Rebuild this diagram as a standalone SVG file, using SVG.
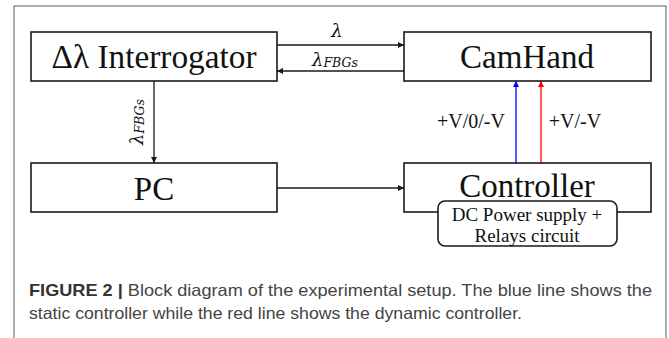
<svg xmlns="http://www.w3.org/2000/svg" width="669" height="338" viewBox="0 0 669 338">
<defs>
<style>
.box{fill:#fff;stroke:#1a1a1a;stroke-width:1.6}
.lbl{font-family:"Liberation Serif","Times New Roman",serif;fill:#111;text-anchor:middle}
.big{font-size:33px}
.mid{font-size:20px}
.sm{font-size:19px}
.math{font-family:"DejaVu Serif","Liberation Serif",serif;font-style:italic;fill:#111}
.wire{fill:none;stroke:#1a1a1a;stroke-width:1.3}
.cap{font-family:"Liberation Sans",Arial,sans-serif;font-size:16.5px;fill:#444}
</style>
<marker id="ah" viewBox="0 0 10 10" refX="10" refY="5" markerWidth="6" markerHeight="6" markerUnits="userSpaceOnUse" orient="auto"><path d="M0,0 L10,5 L0,10 z" fill="#1a1a1a"/></marker>
<marker id="ahb" viewBox="0 0 10 10" refX="10" refY="5" markerWidth="6" markerHeight="6" markerUnits="userSpaceOnUse" orient="auto"><path d="M0,0 L10,5 L0,10 z" fill="#0000ff"/></marker>
<marker id="ahr" viewBox="0 0 10 10" refX="10" refY="5" markerWidth="6" markerHeight="6" markerUnits="userSpaceOnUse" orient="auto"><path d="M0,0 L10,5 L0,10 z" fill="#ff0000"/></marker>
</defs>
<rect width="669" height="338" fill="#fff"/>
<rect x="14" y="6" width="652" height="340" fill="none" stroke="#777" stroke-width="1.2"/>

<g id="connectors">
<line class="wire" x1="277" y1="45" x2="404" y2="45" marker-end="url(#ah)"/>
<line class="wire" x1="404" y1="71" x2="277" y2="71" marker-end="url(#ah)"/>
<line class="wire" x1="154" y1="81" x2="154" y2="163" marker-end="url(#ah)"/>
<line class="wire" x1="277" y1="188" x2="404" y2="188" marker-end="url(#ah)"/>
<line x1="516" y1="163" x2="516" y2="81" stroke="#0000ff" stroke-width="1.3" marker-end="url(#ahb)"/>
<line x1="541" y1="163" x2="541" y2="81" stroke="#ff0000" stroke-width="1.3" marker-end="url(#ahr)"/>
<text class="math" x="337" y="37" font-size="18" text-anchor="middle">λ</text>
<text class="math" x="312" y="66" font-size="18">λ<tspan font-size="12.5" dy="1">FBGs</tspan></text>
<text class="math" transform="translate(143,145) rotate(-90)" font-size="18">λ<tspan font-size="12.5" dy="1">FBGs</tspan></text>
<text class="lbl mid" x="471" y="128">+V/0/-V</text>
<text class="lbl mid" x="575" y="128">+V/-V</text>
</g>

<g id="interrogator">
<rect class="box" x="31" y="32" width="246" height="49"/>
<text class="lbl big" x="154" y="68" textLength="205" lengthAdjust="spacingAndGlyphs">Δλ Interrogator</text>
</g>
<g id="camhand">
<rect class="box" x="404" y="32" width="247" height="49"/>
<text class="lbl big" x="527" y="68">CamHand</text>
</g>
<g id="pc">
<rect class="box" x="31" y="163" width="246" height="49"/>
<text class="lbl big" x="154" y="200">PC</text>
</g>
<g id="controller">
<rect class="box" x="404" y="163" width="247" height="49"/>
<text class="lbl big" x="527" y="197">Controller</text>
</g>
<g id="power">
<rect class="box" x="438" y="201" width="179" height="45" rx="7" ry="7"/>
<text class="lbl sm" x="527" y="221">DC Power supply +</text>
<text class="lbl sm" x="527" y="242">Relays circuit</text>
</g>

<text class="cap" x="29" y="296" textLength="623" lengthAdjust="spacingAndGlyphs"><tspan font-weight="bold" fill="#333">FIGURE 2 |</tspan> Block diagram of the experimental setup. The blue line shows the</text>
<text class="cap" x="29" y="319" textLength="493" lengthAdjust="spacingAndGlyphs">static controller while the red line shows the dynamic controller.</text>
</svg>
